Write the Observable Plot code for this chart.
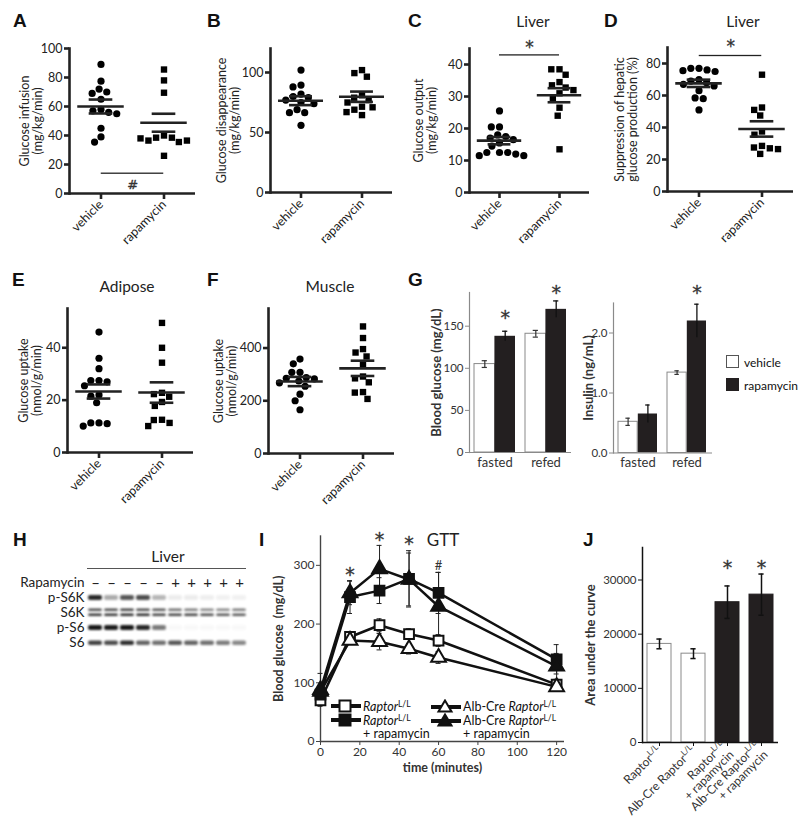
<!DOCTYPE html>
<html><head><meta charset="utf-8">
<script src="https://cdn.jsdelivr.net/npm/d3@7"></script>
<script src="https://cdn.jsdelivr.net/npm/@observablehq/plot@0.6"></script>
<style>
body{margin:0;background:#fff}
#fig{position:relative;width:800px;height:817px;overflow:hidden;font-family:Lato,"Open Sans",sans-serif;color:#111;background:#fff}
.letter{position:absolute;font-family:"Liberation Sans",Arial,sans-serif;font-weight:bold;font-size:19px;line-height:1;color:#111}
.title{position:absolute;font-size:15.5px;line-height:1;transform:translateX(-50%);white-space:nowrap;color:#222}
.leg{position:absolute;font-size:12.5px;line-height:13.5px;color:#111;white-space:nowrap}
.leg sup{font-size:0.68em;vertical-align:0.45em;line-height:0}
</style></head><body><div id="fig"></div>
<script>
const FONT = "Lato, 'Open Sans', sans-serif";
const STARFONT = "'DejaVu Sans', sans-serif";
const groups = ["vehicle", "rapamycin"];

// A: glucose infusion
const aVehicle = [89, 77.5, 72, 70, 69, 65, 58, 57, 56, 55, 45, 39, 35.5];
const aRapamycin = [85.5, 78, 69.5, 40, 38.5, 38.5, 36.5, 35.5, 36.5, 38, 26];
const aMean = [60, 48.8], aSem = [4.8, 6.2];
const aTicks = [0, 20, 40, 60, 80, 100];
// B: glucose disappearance
const bVehicle = [102, 89.5, 88, 82, 80, 79, 77, 75, 74, 69, 66.5, 66.5, 56];
const bRapamycin = [102, 99.5, 96.5, 81, 79, 77, 75, 71.5, 71, 69, 67, 64.5];
const bMean = [76.5, 79.8], bSem = [3.7, 4.3];
const bTicks = [0, 50, 100];
// C: liver glucose output
const cVehicle = [25.5, 20.5, 20.5, 18, 17.5, 17, 16.5, 15.5, 14.5, 12.5, 12.5, 12.5, 12, 11.5, 11.5];
const cRapamycin = [38.5, 38.5, 36.8, 34.5, 33.5, 32.8, 32, 31, 29.5, 26.5, 24, 13.5];
const cMean = [16.2, 30.4], cSem = [1.15, 2.2];
const cTicks = [0, 10, 20, 30, 40];
// D: suppression of hepatic glucose production
const dVehicle = [77, 77, 76, 75.5, 75, 70, 69, 68, 67, 66, 63, 58.5, 58, 51];
const dRapamycin = [73, 52.5, 51, 47.5, 37.5, 35.5, 28.5, 27.5, 27, 26.5, 23.5];
const dMean = [67.6, 39.1], dSem = [2.3, 4.8];
const dTicks = [0, 20, 40, 60, 80];
// E: adipose glucose uptake
const eVehicle = [46, 36, 32, 27.5, 27.5, 27, 25.5, 22, 21.5, 19, 11.3, 11.3, 11, 10.1];
const eRapamycin = [49.5, 40, 34.3, 22.8, 22.3, 21.3, 19.3, 17.8, 12.5, 12.4, 11.3, 10.1];
const eMean = [23.3, 22.9], eSem = [2.7, 3.9];
const eTicks = [0, 20, 40];
// F: muscle glucose uptake
const fVehicle = [358, 340, 308, 308, 288, 285, 283, 275, 268, 255, 225, 200, 166];
const fRapamycin = [482, 438, 396, 383, 368, 336, 292, 285, 270, 233, 231, 207];
const fMean = [273, 323], fSem = [17.5, 29];
const fTicks = [0, 200, 400];
// G
const gConds = ["fasted", "refed"];
const gGlucoseVeh = [105, 141], gGlucoseVehErr = [4, 4];
const gGlucoseRap = [138, 170], gGlucoseRapErr = [6, 10];
const gGlucoseStars = [160, 190];
const gInsulinVeh = [0.52, 1.34], gInsulinVehErr = [0.06, 0.03];
const gInsulinRap = [0.65, 2.2], gInsulinRapErr = [0.15, 0.28];
const gInsulinStars = [null, 2.66];
const gGlucoseTicks = [0, 50, 100, 150], gInsulinTicks = [0, 1, 2];
// H: western blot
const hRows = ["Rapamycin", "p-S6K", "S6K", "p-S6", "S6"];
const hLanes = [1, 2, 3, 4, 5, 6, 7, 8, 9, 10];
const hSigns = ["–", "–", "–", "–", "–", "+", "+", "+", "+", "+"];
const hPS6K = [0.9, 0.35, 0.7, 0.75, 0.3, 0.08, 0.08, 0.07, 0.06, 0.06];
const hS6KUpper = [0.75, 0.75, 0.8, 0.75, 0.7, 0.6, 0.55, 0.5, 0.5, 0.55];
const hS6KLower = [0.85, 0.85, 0.9, 0.9, 0.8, 0.8, 0.8, 0.75, 0.7, 0.7];
const hPS6 = [0.97, 0.95, 0.97, 0.9, 0.55, 0.03, 0.03, 0.03, 0.03, 0.03];
const hS6 = [0.8, 0.75, 0.88, 0.65, 0.6, 0.7, 0.65, 0.6, 0.55, 0.5];
// I: GTT
const iTimes = [0, 15, 30, 45, 60, 120];
const iNames = ["Raptor", "Raptor + rapamycin", "Alb-Cre Raptor", "Alb-Cre Raptor + rapamycin"];
const iRaptor = [70, 178, 198, 183, 172, 97], iRaptorErr = [5, 7, 11, 9, 10, 8];
const iRaptorRapa = [80, 246, 257, 277, 253, 140], iRaptorRapaErr = [10, 28, 22, 48, 35, 25];
const iAlb = [85, 172, 170, 158, 143, 93], iAlbErr = [8, 6, 14, 9, 10, 7];
const iAlbRapa = [88, 253, 294, 276, 230, 128], iAlbRapaErr = [28, 20, 40, 45, 58, 22];
const iStarTimes = [15, 30, 45, 60], iStarY = [284, 344, 336, 300], iStarText = ["*", "*", "*", "#"];
const iXTicks = [0, 20, 40, 60, 80, 100, 120], iYTicks = [0, 100, 200, 300];
// J: area under the curve
const jNames = ["RaptorL/L", "Alb-Cre RaptorL/L", "RaptorL/L\n+ rapamycin", "Alb-Cre RaptorL/L\n+ rapamycin"];
const jValues = [18200, 16400, 25900, 27300];
const jErr = [900, 900, 3000, 3800];
const jStars = [null, null, 32300, 32300];
const jTicks = [0, 10000, 20000, 30000];

const fig = document.getElementById("fig");
function place(el, left, top) {
  el.style.position = "absolute"; el.style.left = left + "px"; el.style.top = top + "px";
  fig.appendChild(el); return el;
}
function html(cls, text, left, top, extra) {
  const d = document.createElement("div"); d.className = cls; d.innerHTML = text;
  if (extra) Object.assign(d.style, extra);
  return place(d, left, top);
}
const baseStyle = {background: "transparent", overflow: "visible", fontFamily: FONT, fontSize: "12px", color: "#222"};
const starStyle = {fontFamily: STARFONT, fill: "#333", stroke: "#333", strokeWidth: 0.35};
function boldLabels(svg, size) {
  svg.querySelectorAll('[aria-label$="axis label"] text').forEach(t => {
    t.setAttribute("font-weight", "bold"); if (size) t.setAttribute("font-size", size);
  });
}
function supLL(root) {
  const walker = document.createTreeWalker(root, NodeFilter.SHOW_TEXT);
  const nodes = []; while (walker.nextNode()) nodes.push(walker.currentNode);
  for (const n of nodes) {
    const s = n.nodeValue, k = s.indexOf("L/L"); if (k < 0) continue;
    const p = n.parentNode;
    const sup = document.createElementNS("http://www.w3.org/2000/svg", "tspan");
    sup.setAttribute("baseline-shift", "super"); sup.setAttribute("font-size", "0.68em"); sup.textContent = "L/L";
    p.insertBefore(document.createTextNode(s.slice(0, k)), n);
    p.insertBefore(sup, n);
    const rest = document.createElementNS("http://www.w3.org/2000/svg", "tspan");
    rest.textContent = s.slice(k + 3);
    p.insertBefore(rest, n);
    p.removeChild(n);
  }
}

// ---------- scatter dot plots A-F ----------
function scatter(c) {
  const pts = c.veh.map(v => ({g: "vehicle", v})).concat(c.rap.map(v => ({g: "rapamycin", v})));
  const stats = groups.map((g, i) => ({g, mean: c.mean[i], sem: c.sem[i]}));
  const fw = (c.width - c.ml - c.mr) / 2;
  const mIn = fw * 0.13, cIn = fw * 0.31, sw = 2.6;
  const marks = [
    Plot.ruleY([0], {strokeWidth: sw}),
    Plot.frame({anchor: "left", facetAnchor: "left", strokeWidth: sw}),
    Plot.axisY({ticks: c.ticks, tickSize: 5, strokeWidth: sw, tickPadding: 2, fontSize: 12.5, label: c.label,
      labelAnchor: "center", labelArrow: "none", labelOffset: c.lo, color: "#222"}),
    Plot.axisFx({anchor: "bottom", tickRotate: -45, tickSize: 6, strokeWidth: sw, tickPadding: 3, fontSize: 12.5, label: null, color: "#222"}),
    Plot.dot(pts, Plot.dodgeX("middle", {fx: "g", y: "v", r: 3.6, symbol: "g", fill: "#000", stroke: "none", padding: 0.1})),
    Plot.tickY(stats, {fx: "g", y: "mean", strokeWidth: sw, insetLeft: mIn, insetRight: mIn}),
    Plot.tickY(stats, {fx: "g", y: d => d.mean + d.sem, strokeWidth: sw, insetLeft: cIn, insetRight: cIn}),
    Plot.tickY(stats, {fx: "g", y: d => d.mean - d.sem, strokeWidth: sw, insetLeft: cIn, insetRight: cIn}),
    Plot.ruleX(stats, {fx: "g", y1: d => d.mean - d.sem, y2: d => d.mean + d.sem, strokeWidth: sw})
  ];
  if (c.bracket) {
    const b = c.bracket;
    marks.push(
      Plot.ruleX([{g: "vehicle"}, {g: "rapamycin"}], {fx: "g", y1: () => b.leg, y2: () => b.bar, strokeWidth: 1.3}),
      Plot.ruleY([{g: "vehicle"}], {fx: "g", y: () => b.bar, insetLeft: fw / 2, strokeWidth: 1.3}),
      Plot.ruleY([{g: "rapamycin"}], {fx: "g", y: () => b.bar, insetRight: fw / 2, strokeWidth: 1.3}),
      Plot.text([{g: "vehicle"}], {fx: "g", y: () => b.symY, text: () => b.sym, dx: fw / 2, fontSize: b.size || 17, ...starStyle})
    );
  }
  const svg = Plot.plot({
    width: c.width, height: c.height,
    marginLeft: c.ml, marginRight: c.mr, marginTop: c.mt, marginBottom: c.mb,
    fx: {domain: groups, padding: 0, label: null},
    y: {domain: [0, c.ymax]},
    symbol: {domain: groups, range: ["circle", "square"]},
    style: baseStyle,
    marks
  });
  place(svg, c.left, c.top);
}

scatter({left: 0, top: 0, width: 200, height: 245, ml: 68, mr: 5, mt: 48, mb: 52, ymax: 100, ticks: aTicks,
  label: "Glucose infusion\n(mg/kg/min)", lo: 49, veh: aVehicle, rap: aRapamycin, mean: aMean, sem: aSem,
  bracket: {bar: 14, leg: 18.7, sym: "#", symY: 6, size: 13}});
scatter({left: 195, top: 0, width: 200, height: 245, ml: 74, mr: 3, mt: 48, mb: 53, ymax: 120, ticks: bTicks,
  label: "Glucose disappearance\n(mg/kg/min)", lo: 53, veh: bVehicle, rap: bRapamycin, mean: bMean, sem: bSem});
scatter({left: 390, top: 0, width: 205, height: 245, ml: 79, mr: 6, mt: 48, mb: 53, ymax: 45, ticks: cTicks,
  label: "Glucose output\n(mg/kg/min)", lo: 55, veh: cVehicle, rap: cRapamycin, mean: cMean, sem: cSem,
  bracket: {bar: 43, leg: 40.6, sym: "*", symY: 45.3}});
scatter({left: 590, top: 0, width: 210, height: 245, ml: 76, mr: 7, mt: 47, mb: 54, ymax: 90, ticks: dTicks,
  label: "Suppression of hepatic\nglucose production (%)", lo: 52, veh: dVehicle, rap: dRapamycin, mean: dMean, sem: dSem,
  bracket: {bar: 85, leg: 81, sym: "*", symY: 90.5}});
scatter({left: 0, top: 250, width: 200, height: 255, ml: 66, mr: 7, mt: 58, mb: 53, ymax: 55, ticks: eTicks,
  label: "Glucose uptake\n(nmol/g/min)", lo: 48, veh: eVehicle, rap: eRapamycin, mean: eMean, sem: eSem});
scatter({left: 195, top: 250, width: 202, height: 255, ml: 72, mr: 3, mt: 58, mb: 52, ymax: 550, ticks: fTicks,
  label: "Glucose uptake\n(nmol/g/min)", lo: 54, veh: fVehicle, rap: fRapamycin, mean: fMean, sem: fSem});

// ---------- G bar charts ----------
function barG(c) {
  const inner = c.width - c.ml - c.mr;
  const bw = inner / (2 - 0.2 + 0.2) * 0.8;
  const veh = gConds.map((k, i) => ({k, v: c.veh[i], e: c.vehErr[i]}));
  const rap = gConds.map((k, i) => ({k, v: c.rap[i], e: c.rapErr[i], s: c.stars[i]}));
  const cap = 2.5;
  const svg = Plot.plot({
    width: c.width, height: c.height, marginLeft: c.ml, marginRight: c.mr, marginTop: c.mt, marginBottom: c.mb,
    x: {domain: gConds, paddingInner: 0.2, paddingOuter: 0.1},
    y: {domain: [0, c.ymax]},
    style: baseStyle,
    marks: [
      Plot.barY(veh, {x: "k", y: "v", fill: "white", stroke: "#8a8a8a", strokeWidth: 1, insetRight: bw / 2}),
      Plot.barY(rap, {x: "k", y: "v", fill: "#231f20", insetLeft: bw / 2}),
      Plot.ruleX(veh, {x: "k", y1: d => d.v - d.e, y2: d => d.v + d.e, dx: -bw / 4, stroke: "#333", strokeWidth: 1.2}),
      Plot.tickY(veh, {x: "k", y: d => d.v + d.e, insetLeft: bw / 4 - cap, insetRight: 3 * bw / 4 - cap, stroke: "#333", strokeWidth: 1.2}),
      Plot.tickY(veh, {x: "k", y: d => d.v - d.e, insetLeft: bw / 4 - cap, insetRight: 3 * bw / 4 - cap, stroke: "#333", strokeWidth: 1.2}),
      Plot.ruleX(rap, {x: "k", y1: d => d.v - d.e, y2: d => d.v + d.e, dx: bw / 4, stroke: "#111", strokeWidth: 1.3}),
      Plot.tickY(rap, {x: "k", y: d => d.v + d.e, insetLeft: 3 * bw / 4 - cap, insetRight: bw / 4 - cap, stroke: "#111", strokeWidth: 1.3}),
      Plot.text(rap.filter(d => d.s != null), {x: "k", y: "s", text: () => "*", dx: bw / 4, fontSize: 19, ...starStyle}),
      Plot.ruleY([0], {stroke: "#8a8a8a", strokeWidth: 1.2}),
      Plot.frame({anchor: "left", stroke: "#8a8a8a", strokeWidth: 1.2}),
      Plot.axisY({ticks: c.ticks, tickSize: 4, stroke: "#8a8a8a", fill: "#333", tickPadding: 2, fontSize: 11.5,
        label: c.label, labelAnchor: "center", labelArrow: "none", labelOffset: c.lo}),
      Plot.axisX({tickSize: 0, tickPadding: 5, fontSize: 13, fill: "#333", label: null})
    ]
  });
  boldLabels(svg, 13);
  place(svg, c.left, c.top);
}
barG({left: 400, top: 250, width: 175, height: 232, ml: 69, mr: 4, mt: 42, mb: 30, ymax: 190, ticks: gGlucoseTicks,
  label: "Blood glucose (mg/dL)", lo: 38, veh: gGlucoseVeh, vehErr: gGlucoseVehErr, rap: gGlucoseRap, rapErr: gGlucoseRapErr, stars: gGlucoseStars});
barG({left: 560, top: 250, width: 155, height: 232, ml: 53, mr: 3, mt: 52.5, mb: 29.5, ymax: 2.5, ticks: gInsulinTicks,
  label: "Insulin (ng/mL)", lo: 30, veh: gInsulinVeh, vehErr: gInsulinVehErr, rap: gInsulinRap, rapErr: gInsulinRapErr, stars: gInsulinStars});

// ---------- H blot ----------
{
  const band = (arr, row) => hLanes.map((lane, i) => ({lane, row, i: arr[i]}));
  const common = {x: "lane", y: "row", fill: "#111", fillOpacity: "i", insetLeft: 1, insetRight: 1, rx: 2, imageFilter: "blur(0.8px)"};
  const svg = Plot.plot({
    width: 250, height: 96, marginLeft: 87, marginRight: 3, marginTop: 13, marginBottom: 5,
    x: {type: "band", domain: hLanes, padding: 0, axis: null},
    y: {domain: hRows, padding: 0},
    opacity: {type: "identity"},
    style: baseStyle,
    marks: [
      Plot.axisY({tickSize: 0, tickPadding: 3, fontSize: 13.5, fill: "#222", label: null}),
      Plot.cell(band(hPS6K, "p-S6K"), {...common, insetTop: 5, insetBottom: 5}),
      Plot.cell(band(hS6KUpper, "S6K"), {...common, insetTop: 6, insetBottom: 6.5, dy: -2.5}),
      Plot.cell(band(hS6KLower, "S6K"), {...common, insetTop: 6.5, insetBottom: 6, dy: 2}),
      Plot.cell(band(hPS6, "p-S6"), {...common, insetTop: 5, insetBottom: 5}),
      Plot.cell(band(hS6, "S6"), {...common, insetTop: 5.5, insetBottom: 5}),
      Plot.text(hLanes, {x: d => d, y: () => "Rapamycin", text: (d, i) => hSigns[i], fontSize: 15, fill: "#222"})
    ]
  });
  place(svg, 0, 560);
  html("title", "Liver", 168, 549);
  const line = document.createElement("div");
  Object.assign(line.style, {width: "159px", height: "0", borderTop: "1.2px solid #555"});
  place(line, 87, 568);
}

// ---------- I GTT ----------
{
  const series = [
    {name: iNames[0], v: iRaptor, e: iRaptorErr, filled: false},
    {name: iNames[1], v: iRaptorRapa, e: iRaptorRapaErr, filled: true},
    {name: iNames[2], v: iAlb, e: iAlbErr, filled: false},
    {name: iNames[3], v: iAlbRapa, e: iAlbRapaErr, filled: true}
  ];
  const data = series.flatMap(s => iTimes.map((t, k) => ({s: s.name, t, v: s.v[k], e: s.e[k], filled: s.filled})));
  const stars = iStarTimes.map((t, k) => ({t, y: iStarY[k], txt: iStarText[k]}));
  const svg = Plot.plot({
    width: 314, height: 256, marginLeft: 60, marginRight: 10, marginTop: 15.5, marginBottom: 35,
    x: {domain: [0, 124]}, y: {domain: [0, 350]},
    symbol: {domain: iNames, range: ["square", "square", "triangle", "triangle"]},
    style: baseStyle,
    marks: [
      Plot.ruleY([0], {stroke: "#444", strokeWidth: 1.4}),
      Plot.frame({anchor: "left", stroke: "#444", strokeWidth: 1.4}),
      Plot.axisX({ticks: iXTicks, tickSize: 4, stroke: "#444", fill: "#333", fontSize: 12, tickPadding: 2,
        label: "time (minutes)", labelAnchor: "center", labelArrow: "none", labelOffset: 30}),
      Plot.axisY({ticks: iYTicks, tickSize: 4, stroke: "#444", fill: "#333", fontSize: 12, tickPadding: 2,
        label: "Blood glucose  (mg/dL)", labelAnchor: "center", labelArrow: "none", labelOffset: 46}),
      Plot.line(data, {x: "t", y: "v", z: "s", stroke: "#111", strokeWidth: 2.5}),
      Plot.ruleX(data, {x: "t", y1: d => d.v - d.e, y2: d => d.v + d.e, stroke: "#222", strokeWidth: 1}),
      Plot.ruleY(data, {x1: "t", x2: "t", y: d => d.v + d.e, insetLeft: -2.5, insetRight: -2.5, stroke: "#222", strokeWidth: 1}),
      Plot.ruleY(data, {x1: "t", x2: "t", y: d => d.v - d.e, insetLeft: -2.5, insetRight: -2.5, stroke: "#222", strokeWidth: 1}),
      Plot.dot(data, {x: "t", y: "v", symbol: "s", r: 5.5, fill: d => d.filled ? "#111" : "white", stroke: "#111", strokeWidth: 2}),
      Plot.text(stars.filter(d => d.txt === "*"), {x: "t", y: "y", text: "txt", fontSize: 19, ...starStyle}),
      Plot.text(stars.filter(d => d.txt !== "*"), {x: "t", y: "y", text: "txt", fontSize: 13, fill: "#333"})
    ]
  });
  boldLabels(svg, 12.5);
  place(svg, 260, 520);
  html("title", "GTT", 443, 531, {fontSize: "17px"});
  const sq = (f) => `<svg width="32" height="14" style="display:block"><line x1="1" x2="31" y1="7" y2="7" stroke="#111" stroke-width="4"/><rect x="9.5" y="1.5" width="11" height="11" fill="${f}" stroke="#111" stroke-width="2"/></svg>`;
  const tri = (f) => `<svg width="32" height="14" style="display:block"><line x1="1" x2="31" y1="8" y2="8" stroke="#111" stroke-width="4"/><polygon points="15,1.5 21.5,12.5 8.5,12.5" fill="${f}" stroke="#111" stroke-width="2"/></svg>`;
  const rl = "<i>Raptor</i><sup>L/L</sup>";
  html("leg", sq("white") + '<div style="height:0"></div>' + sq("#111"), 330, 699);
  html("leg", rl + "<br>" + rl + "<br>+ rapamycin", 363, 700);
  html("leg", tri("white") + '<div style="height:0"></div>' + tri("#111"), 430, 699);
  html("leg", "Alb-Cre " + rl + "<br>Alb-Cre " + rl + "<br>+ rapamycin", 463, 700);
}

// ---------- J AUC ----------
{
  const data = jNames.map((n, i) => ({n, v: jValues[i], e: jErr[i], s: jStars[i], rapa: n.includes("rapamycin")}));
  const width = 212, ml = 72, mr = 4;
  const step = (width - ml - mr) / (4 - 0.3 + 0.3);
  const bw = step * 0.7, cap = 2.5;
  const svg = Plot.plot({
    width, height: 298, marginLeft: ml, marginRight: mr, marginTop: 27, marginBottom: 76,
    x: {domain: jNames, paddingInner: 0.3, paddingOuter: 0.15},
    y: {domain: [0, 36000]},
    style: baseStyle,
    marks: [
      Plot.barY(data, {x: "n", y: "v", fill: d => d.rapa ? "#231f20" : "white", stroke: d => d.rapa ? "#231f20" : "#8a8a8a", strokeWidth: 1}),
      Plot.ruleX(data, {x: "n", y1: d => d.v - d.e, y2: d => d.v + d.e, stroke: "#111", strokeWidth: 1.5}),
      Plot.tickY(data, {x: "n", y: d => d.v + d.e, insetLeft: bw / 2 - cap, insetRight: bw / 2 - cap, stroke: "#111", strokeWidth: 1.5}),
      Plot.tickY(data, {x: "n", y: d => d.v - d.e, insetLeft: bw / 2 - cap, insetRight: bw / 2 - cap, stroke: "#111", strokeWidth: 1.5}),
      Plot.text(data.filter(d => d.s != null), {x: "n", y: "s", text: () => "*", fontSize: 19, ...starStyle}),
      Plot.ruleY([0], {stroke: "#111", strokeWidth: 1.5}),
      Plot.frame({anchor: "left", stroke: "#111", strokeWidth: 1.5}),
      Plot.axisY({ticks: jTicks, tickFormat: "d", tickSize: 4, stroke: "#111", fill: "#333", fontSize: 11.5, tickPadding: 2,
        label: "Area under the curve", labelAnchor: "center", labelArrow: "none", labelOffset: 57}),
      Plot.axisX({tickRotate: -45, tickSize: 4, tickPadding: 2, stroke: "#111", fill: "#333", fontSize: 12, label: null})
    ]
  });
  boldLabels(svg, 13);
  supLL(svg);
  place(svg, 570, 520);
}

// ---------- panel letters & titles ----------
html("letter", "A", 13, 11); html("letter", "B", 207, 11); html("letter", "C", 408, 11); html("letter", "D", 604, 11);
html("letter", "E", 12, 270); html("letter", "F", 207, 270); html("letter", "G", 408, 270);
html("letter", "H", 13, 530); html("letter", "I", 259, 530); html("letter", "J", 583, 530);
html("title", "Liver", 533, 14); html("title", "Liver", 743, 14);
html("title", "Adipose", 127, 279); html("title", "Muscle", 330, 279);
// G legend
html("leg", '<span style="display:block;width:11px;height:11px;border:1.5px solid #555;background:#fff"></span>', 726, 355);
html("leg", "vehicle", 744, 356, {fontSize: "12px"});
html("leg", '<span style="display:block;width:13px;height:13px;background:#231f20"></span>', 726, 378);
html("leg", "rapamycin", 744, 379, {fontSize: "12px"});
</script></body></html>
